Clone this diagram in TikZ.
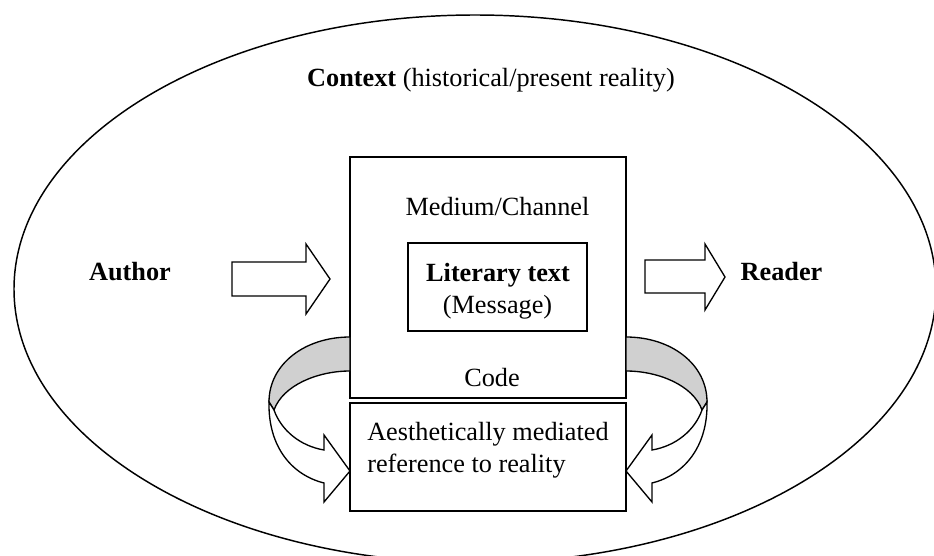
\documentclass[tikz,border=0pt]{standalone}
\usepackage{fontspec}
\setmainfont{Liberation Serif}
\definecolor{bandgray}{RGB}{208,208,208}
\begin{document}
\begin{tikzpicture}[x=0.75pt,y=-0.75pt,
  lbl/.style={font=\fontsize{19.7}{24}\selectfont, inner sep=0pt, anchor=base},
  frame/.style={draw, line width=1.3pt, inner sep=0pt},
  outline/.style={draw, line width=1pt, line join=miter},
  curlarrow/.pic={
    % back part of the band, shaded
    \path[outline, fill=bandgray]
      (350,337) .. controls (305,337) and (269,364) .. (269,402)
      -- (274,410) .. controls (283,385) and (318,371) .. (350,371) -- cycle;
    % front part of the band with its arrow head
    \path[outline, fill=white]
      (269,402) .. controls (268,447) and (292,475) .. (324,483)
      -- (324,502) -- (350,471) -- (324,435) -- (324,450)
      .. controls (300,446) and (281,430) .. (274,410) -- cycle;
  }]
\useasboundingbox (0,0) rectangle (934,556);
\clip (0,0) rectangle (934,556);
\fill[white] (0,0) rectangle (934,556);

% surrounding context
\draw[line width=1.1pt] (475,289) ellipse [x radius=345.75pt, y radius=205.5pt];

% boxes
\node[frame, minimum width=207pt, minimum height=180.75pt] (channel) at (488,277.5) {};
\node[frame, minimum width=134.25pt, minimum height=66pt] (textbox) at (497.5,287) {};
\node[frame, minimum width=207pt, minimum height=81pt] (refbox) at (488,457) {};

% block arrows
\path[outline] (232,262) -- (306,262) -- (306,244) -- (330,279) -- (306,314)
  -- (306,296) -- (232,296) -- cycle;
\path[outline] (645,260) -- (705,260) -- (705,244) -- (725,277) -- (705,310)
  -- (705,293) -- (645,293) -- cycle;

% curved arrows on both sides (the right one mirrored about x = 488)
\pic {curlarrow};
\begin{scope}[cm={-1,0,0,1,(732pt,0pt)}]
  \pic[transform shape] {curlarrow};
\end{scope}

% labels
\node[lbl] (context) at (491,87) {\textbf{Context} (historical/present reality)};
\node[lbl] (medium) at (497.5,215) {Medium/Channel};
\node[lbl] (author) at (130,280) {\textbf{Author}};
\node[lbl] (reader) at (781.5,280) {\textbf{Reader}};
\node[lbl] (literary) at (498,281) {\textbf{Literary text}};
\node[lbl] (message) at (497.5,313) {(Message)};
\node[lbl] (code) at (492,386) {Code};
\node[lbl, anchor=base west] (aest1) at (367,440) {Aesthetically mediated};
\node[lbl, anchor=base west] (aest2) at (367,472) {reference to reality};
\end{tikzpicture}
\end{document}
